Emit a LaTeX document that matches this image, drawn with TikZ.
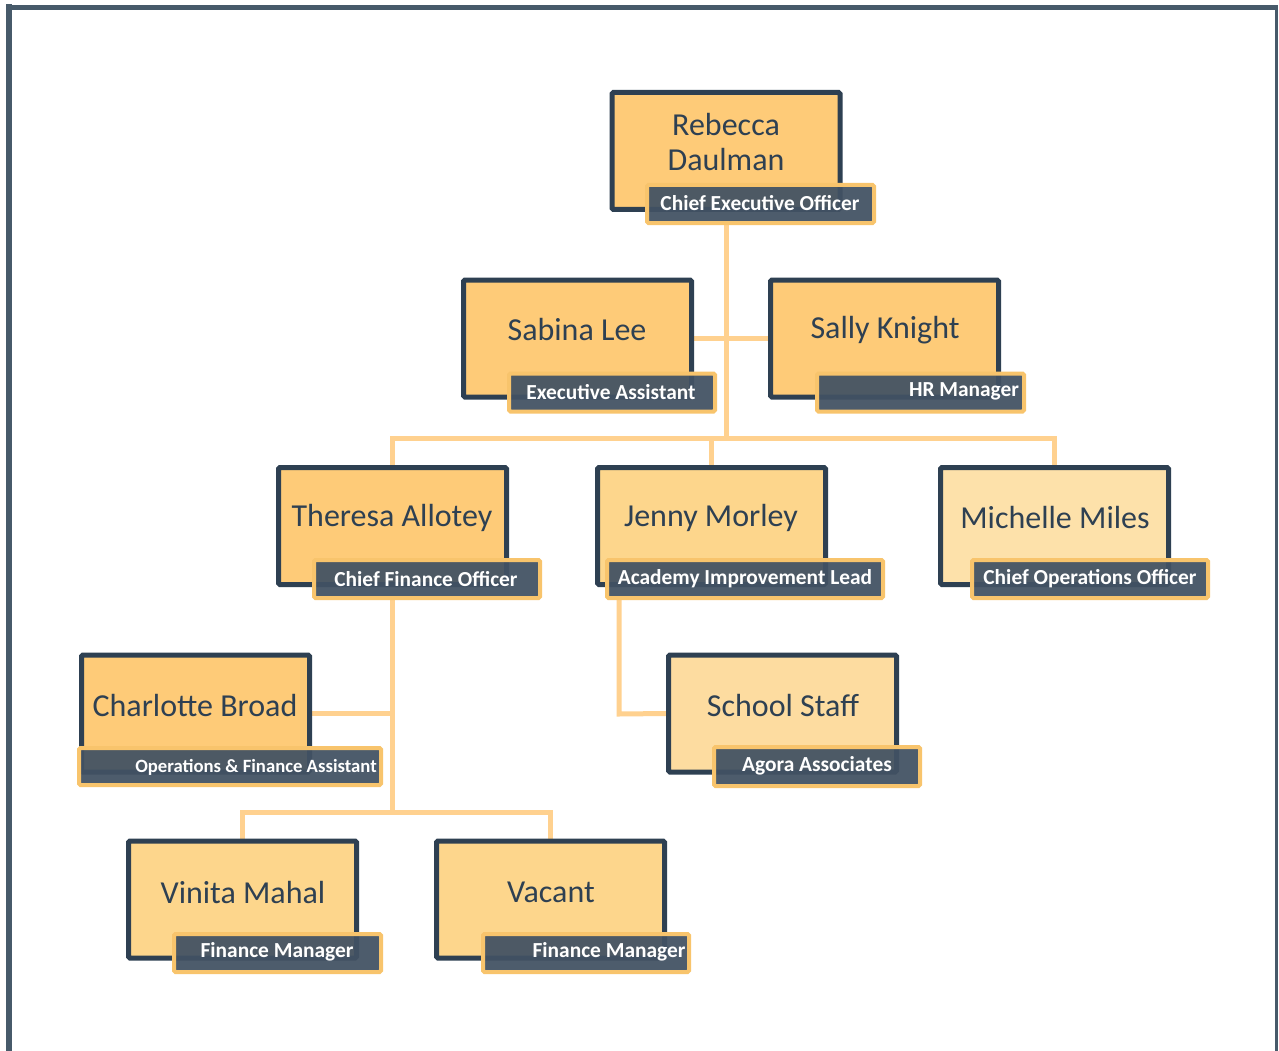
\documentclass[tikz,border=0pt]{standalone}
\usepackage{fontspec}
\setmainfont{Carlito}
\pgfdeclarelayer{paper}
\pgfdeclarelayer{bg}
\pgfsetlayers{paper,bg,main}
\definecolor{frame}{HTML}{475A6A}
\definecolor{bord}{HTML}{2E4052}
\definecolor{fillA}{HTML}{FECB78}
\definecolor{fillB}{HTML}{FDD68C}
\definecolor{fillC}{HTML}{FDE1AA}
\definecolor{fillD}{HTML}{FDDCA0}
\definecolor{conn}{HTML}{FFD18F}
\definecolor{lblfill}{HTML}{425263}
\definecolor{lblbord}{HTML}{F8C46C}
\definecolor{nametxt}{HTML}{2E4052}
\tikzset{
  pbox/.style={draw=bord, line width=5pt, rounded corners=1.5pt, minimum width=228pt, minimum height=117pt, inner sep=0pt},
  lbl/.style={draw=lblbord, line width=4pt, fill=lblfill, fill opacity=0.94, rounded corners=1.5pt, minimum height=38pt, inner sep=0pt},
  nm/.style={text=nametxt, font=\fontsize{32}{35}\selectfont, align=center, inner sep=0pt},
  lt/.style={text=white, font=\fontsize{21.4}{24}\selectfont\bfseries, inner sep=0pt},
  cn/.style={draw=conn, line width=5pt}
}
\begin{document}
\begin{tikzpicture}[x=1pt,y=-1pt]
\useasboundingbox (0,0) rectangle (1279,1051);
\begin{pgfonlayer}{paper}
\fill[white] (0,0) rectangle (1279,1051);
\end{pgfonlayer}
% frame
\fill[frame] (6,4) rectangle (12,1051);
\fill[frame] (6,5) rectangle (1278,10);
\fill[frame] (1275,5) rectangle (1278,1051);

% coordinates for connectors
\coordinate (j1) at (726,438);
\coordinate (j2) at (392.5,812);
\coordinate (j3) at (619,714);

% box positions
\path
  (726,151) coordinate (reb0)
  (577.5,338.5) coordinate (sab0)
  (884.5,338.5) coordinate (sal0)
  (392.5,526) coordinate (the0)
  (711.5,526) coordinate (jen0)
  (1054.5,526) coordinate (mic0)
  (195.5,713.5) coordinate (cha0)
  (782.5,713.5) coordinate (sch0)
  (242.5,899.5) coordinate (vin0)
  (550.5,899.5) coordinate (vac0);

\node[pbox, fill=fillA] (reb) at (reb0) {};
\node[pbox, fill=fillA] (sab) at (sab0) {};
\node[pbox, fill=fillA] (sal) at (sal0) {};
\node[pbox, fill=fillA] (the) at (the0) {};
\node[pbox, fill=fillB] (jen) at (jen0) {};
\node[pbox, fill=fillC] (mic) at (mic0) {};
\node[pbox, fill=fillA] (cha) at (cha0) {};
\node[pbox, fill=fillD] (sch) at (sch0) {};
\node[pbox, fill=fillB] (vin) at (vin0) {};
\node[pbox, fill=fillB] (vac) at (vac0) {};

% labels
\node[lbl, minimum width=227pt] (rebL) at (760.5,204) {};
\node[lbl, minimum width=206pt] (sabL) at (612,392.5) {};
\node[lbl, minimum width=207pt] (salL) at (920.5,392.5) {};
\node[lbl, minimum width=226pt] (theL) at (427,579) {};
\node[lbl, minimum width=276pt] (jenL) at (745,579) {};
\node[lbl, minimum width=236pt] (micL) at (1090,579) {};
\node[lbl, minimum width=302pt, minimum height=37pt] (chaL) at (230,766.5) {};
\node[lbl, minimum width=206pt, minimum height=39pt] (schL) at (817,766.5) {};
\node[lbl, minimum width=207pt] (vinL) at (277.5,953) {};
\node[lbl, minimum width=206pt] (vacL) at (586,953) {};

% connectors (behind)
\begin{pgfonlayer}{bg}
\draw[cn] (rebL.south -| reb) -- (j1);
\draw[cn] (sab.east) -- (sal.west);
\draw[cn] (the.north) -- (the.north |- j1) -- (mic.north |- j1) -- (mic.north);
\draw[cn] (jen.north) -- (jen.north |- j1);
\draw[cn] (theL.south -| the) -- (j2);
\draw[cn] (cha.east) -- (cha.east -| j2);
\draw[cn] (vin.north) -- (vin.north |- j2) -- (vac.north |- j2) -- (vac.north);
\draw[cn] (jenL.south -| j3) -- (j3) -- (sch.west);
\end{pgfonlayer}

% names
\node[nm] (rebN) at (726,142) {Rebecca\\Daulman};
\node[nm] (sabN) at (577,330) {Sabina Lee};
\node[nm] (salN) at (885,330) {Sally Knight};
\node[nm] (theN) at (392,518) {Theresa Allotey};
\node[nm] (jenN) at (711,518) {Jenny Morley};
\node[nm] (micN) at (1055,518) {Michelle Miles};
\node[nm] (chaN) at (195,706) {Charlotte Broad};
\node[nm] (schN) at (783,706) {School Staff};
\node[nm] (vinN) at (243,892) {Vinita Mahal};
\node[nm] (vacN) at (551,892) {Vacant};

% label texts
\node[lt] (rebT) at (760,203) {Chief Executive Officer};
\node[lt] (sabT) at (611,392) {Executive Assistant};
\node[lt] (salT) at (964,391) {HR Manager};
\node[lt] (theT) at (426,579) {Chief Finance Officer};
\node[lt] (jenT) at (745,579) {Academy Improvement Lead};
\node[lt] (micT) at (1090,579) {Chief Operations Officer};
\node[lt, font=\fontsize{18.7}{22}\selectfont\bfseries] (chaT) at (256,767) {Operations \& Finance Assistant};
\node[lt] (schT) at (817,766) {Agora Associates};
\node[lt] (vinT) at (277,952) {Finance Manager};
\node[lt] (vacT) at (609,952) {Finance Manager};
\end{tikzpicture}
\end{document}
